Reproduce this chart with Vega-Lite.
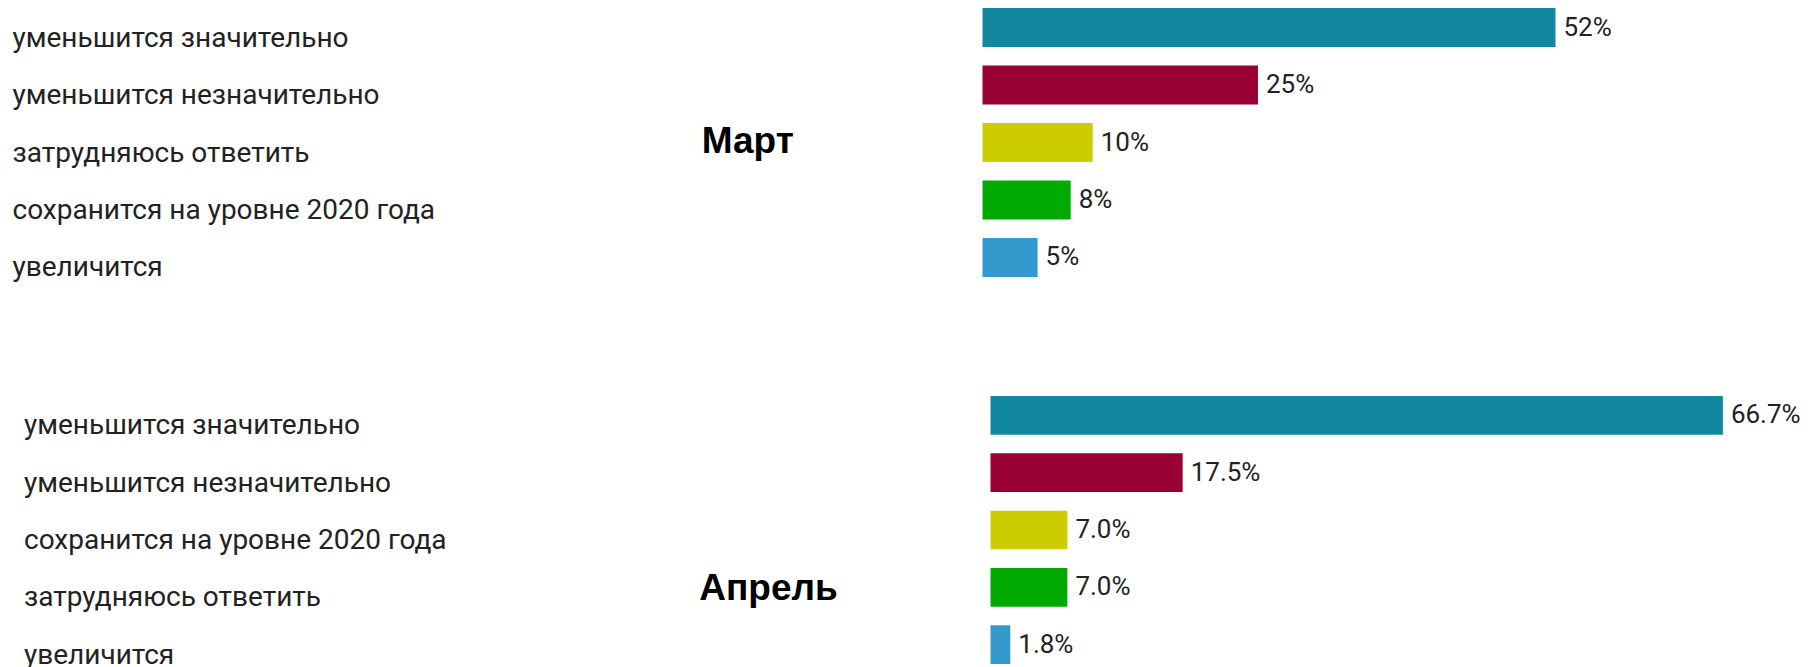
{
  "$schema": "https://vega.github.io/schema/vega-lite/v6.json",
  "padding": {"left": 11.5, "top": 0, "right": 0, "bottom": 0},
  "background": "white",
  "config": {"view": {"stroke": null}, "concat": {"spacing": 103}},
  "datasets": {
    "mar": [
      {"category": "уменьшится значительно", "rank": 1, "value": 52, "label": "52%"},
      {"category": "уменьшится незначительно", "rank": 2, "value": 25, "label": "25%"},
      {"category": "затрудняюсь ответить", "rank": 3, "value": 10, "label": "10%"},
      {"category": "сохранится на уровне 2020 года", "rank": 4, "value": 8, "label": "8%"},
      {"category": "увеличится", "rank": 5, "value": 5, "label": "5%"}
    ],
    "apr": [
      {"category": "уменьшится значительно", "rank": 1, "value": 66.7, "label": "66.7%"},
      {"category": "уменьшится незначительно", "rank": 2, "value": 17.5, "label": "17.5%"},
      {"category": "сохранится на уровне 2020 года", "rank": 3, "value": 7.0, "label": "7.0%"},
      {"category": "затрудняюсь ответить", "rank": 4, "value": 7.0, "label": "7.0%"},
      {"category": "увеличится", "rank": 5, "value": 1.8, "label": "1.8%"}
    ]
  },
  "vconcat": [
    {
      "width": 800,
      "height": 285,
      "data": {"name": "mar"},
      "encoding": {
        "y": {
          "field": "category", "type": "nominal",
          "sort": {"field": "rank", "op": "min", "order": "ascending"},
          "scale": {"paddingInner": 0.32, "paddingOuter": 0.14},
          "axis": {
            "title": "Март", "titleAngle": 0, "titleX": -281.3, "titleY": 152.7,
            "titleAlign": "left", "titleBaseline": "alphabetic",
            "titleFont": "Liberation Sans", "titleFontWeight": "bold", "titleFontSize": 37, "titleColor": "#000000",
            "labelAlign": "left", "labelBaseline": "middle", "labelPadding": 970.5, "labelOffset": 11,
            "labelFont": "Roboto", "labelFontSize": 28, "labelColor": "#222222", "labelLimit": 800,
            "domain": false, "ticks": false, "tickSize": 0, "grid": false
          }
        },
        "x": {"field": "value", "type": "quantitative", "scale": {"domain": [0, 72.6], "nice": false, "zero": false}, "axis": null}
      },
      "layer": [
        {
          "mark": {"type": "bar"},
          "encoding": {
            "color": {"field": "rank", "type": "ordinal",
              "scale": {"domain": [1, 2, 3, 4, 5], "range": ["#12889E", "#990033", "#CCCC00", "#00AA00", "#3399CC"]},
              "legend": null}
          }
        },
        {
          "mark": {"type": "text", "align": "left", "baseline": "middle", "dx": 8, "font": "Roboto", "fontSize": 26, "color": "#222222"},
          "encoding": {"text": {"field": "label", "type": "nominal"}}
        }
      ]
    },
    {
      "width": 800,
      "height": 284,
      "data": {"name": "apr"},
      "encoding": {
        "y": {
          "field": "category", "type": "nominal",
          "sort": {"field": "rank", "op": "min", "order": "ascending"},
          "scale": {"paddingInner": 0.325, "paddingOuter": 0.14},
          "axis": {
            "title": "Апрель", "titleAngle": 0, "titleX": -283.7, "titleY": 211.3,
            "titleAlign": "left", "titleBaseline": "alphabetic",
            "titleFont": "Liberation Sans", "titleFontWeight": "bold", "titleFontSize": 37, "titleColor": "#000000",
            "labelAlign": "left", "labelBaseline": "middle", "labelPadding": 959, "labelOffset": 11,
            "labelFont": "Roboto", "labelFontSize": 28, "labelColor": "#222222", "labelLimit": 800,
            "domain": false, "ticks": false, "tickSize": 0, "grid": false
          }
        },
        "x": {"field": "value", "type": "quantitative", "scale": {"domain": [-0.73, 72.13], "nice": false, "zero": false}, "axis": null}
      },
      "layer": [
        {
          "mark": {"type": "bar"},
          "encoding": {
            "color": {"field": "rank", "type": "ordinal",
              "scale": {"domain": [1, 2, 3, 4, 5], "range": ["#12889E", "#990033", "#CCCC00", "#00AA00", "#3399CC"]},
              "legend": null}
          }
        },
        {
          "mark": {"type": "text", "align": "left", "baseline": "middle", "dx": 8, "font": "Roboto", "fontSize": 26, "color": "#222222"},
          "encoding": {"text": {"field": "label", "type": "nominal"}}
        }
      ]
    }
  ],
  "resolve": {"scale": {"x": "independent", "y": "independent"}}
}
